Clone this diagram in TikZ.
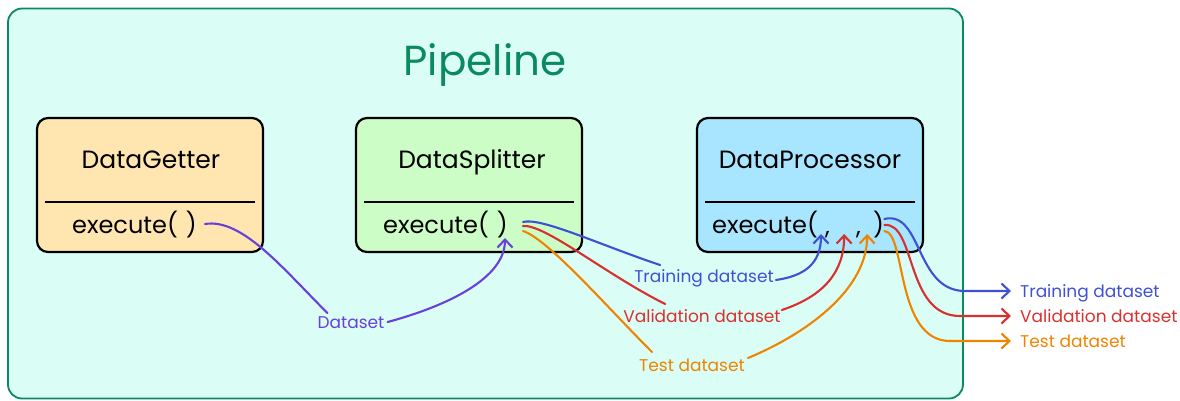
\documentclass[tikz,border=0pt]{standalone}
\usepackage{fontspec}
\setmainfont{Poppins}
\usetikzlibrary{arrows.meta,calc}
\definecolor{pfill}{HTML}{DAFDF5}
\definecolor{pgreen}{HTML}{0C8A5F}
\definecolor{getfill}{HTML}{FFE6B0}
\definecolor{splitfill}{HTML}{CDFDC6}
\definecolor{procfill}{HTML}{A8E6FF}
\definecolor{cvio}{HTML}{6741D9}
\definecolor{cblue}{HTML}{3F51D3}
\definecolor{cred}{HTML}{D8302F}
\definecolor{corange}{HTML}{EE8400}
\begin{document}
\begin{tikzpicture}[x=1pt,y=-1pt,
  frame/.style={draw=pgreen,fill=pfill,line width=1.8pt,rounded corners=14pt,minimum width=955pt,minimum height=390pt,inner sep=0pt},
  umlbox/.style={draw=black,line width=2.2pt,rounded corners=11pt,minimum width=226pt,minimum height=134pt,inner sep=0pt},
  divline/.style={draw=black,line width=2.2pt},
  ttl/.style={text=pgreen,font=\fontsize{42}{48}\selectfont,inner sep=0pt,anchor=base},
  cname/.style={font=\fontsize{25}{30}\selectfont,inner sep=0pt,anchor=base},
  meth/.style={font=\fontsize{24}{28}\selectfont,inner sep=0pt,anchor=base west},
  lbl/.style={font=\fontsize{17}{20}\selectfont,inner sep=0pt},
  conn/.style={line width=2.1pt,line cap=round},
  arr/.style={conn,-{Straight Barb[length=8pt,width=15pt,line width=2.1pt]}}
]
\useasboundingbox (0,0) rectangle (1180,400);
% frame
\node[frame] (pipe) at (485.5,203.5) {};
\node[ttl] (title) at (485,75) {Pipeline};
% boxes
\node[umlbox,fill=getfill] (getter) at (150,185) {};
\node[umlbox,fill=splitfill] (splitter) at (469,185) {};
\node[umlbox,fill=procfill] (proc) at (810,185) {};
\foreach \b in {getter,splitter,proc}
  \draw[divline] ($(\b.west)+(9,17)$) -- ($(\b.east)+(-9,17)$);
% texts
\node[cname] (gt) at (151,168) {DataGetter};
\node[cname] (st) at (472,168) {DataSplitter};
\node[cname] (pt) at (810,168) {DataProcessor};
\node[meth] (ge) at (72,233) {execute(\,\,)};
\node[meth] (se) at (383,233) {execute(\,\,)};
\node[meth] (pe) at (712,233) {execute(};
\node[meth] (c1) at (825,234) {,};
\node[meth] (c2) at (856,234) {,};
\node[meth] (pr) at (873,233) {)};
% labels
\node[lbl,text=cvio,anchor=base] (ds) at (351,328) {Dataset};
\node[lbl,text=cblue,anchor=base] (tr1) at (704,282) {Training dataset};
\node[lbl,text=cred,anchor=base] (va1) at (702,322) {Validation dataset};
\node[lbl,text=corange,anchor=base] (te1) at (692,371) {Test dataset};
\node[lbl,text=cblue,anchor=base west] (tr2) at (1020,297) {Training dataset};
\node[lbl,text=cred,anchor=base west] (va2) at (1020,322) {Validation dataset};
\node[lbl,text=corange,anchor=base west] (te2) at (1020,347) {Test dataset};
% argument slots
\coordinate (inS) at ($(se.base east)+(-3,5)$);
\coordinate (inA) at ($(c1.base west)+(-4,0)$);
\coordinate (inB) at ($(c1.base east)+(14,0)$);
\coordinate (inC) at ($(c2.base east)+(6,0)$);
% Dataset
\draw[conn,cvio] ($(ge.base east)+(8,-9)$) .. controls +(37,-6) and +(-45,-45) .. ($(ds.base west)+(10,-15)$);
\draw[arr,cvio] ($(ds.base east)+(3,-6)$) .. controls +(45,-12) and +(0,45) .. (inS);
% splitter outputs
\draw[conn,cblue] ($(se.base east)+(15,-11)$) .. controls +(18,-5) and +(-60,-20) .. ($(tr1.base west)+(26,-17)$);
\draw[arr,cblue] ($(tr1.base east)+(2,-2)$) .. controls +(28,-4) and +(0,30) .. (inA);
\draw[conn,cred] ($(se.base east)+(15,-7)$) .. controls +(22,-2) and +(-60,-30) .. ($(va1.base west)+(42,-18)$);
\draw[arr,cred] ($(va1.base east)+(1,-12)$) .. controls +(42,-14) and +(0,38) .. (inB);
\draw[conn,corange] ($(se.base east)+(15,-2)$) .. controls +(25,8) and +(-45,-45) .. ($(te1.base west)+(13,-19)$);
\draw[arr,corange] ($(te1.base east)+(3,-13)$) .. controls +(60,-25) and +(0,55) .. (inC);
% processor outputs
\draw[arr,cblue] ($(pr.base east)+(0,-14)$) .. controls +(38,-9) and +(-50,0) .. ($(tr2.base west)+(-55,-6)$) -- ($(tr2.base west)+(-9,-6)$);
\draw[arr,cred] ($(pr.base east)+(0,-8)$) .. controls +(32,-3) and +(-55,0) .. ($(va2.base west)+(-60,-6)$) -- ($(va2.base west)+(-9,-6)$);
\draw[arr,corange] ($(pr.base east)+(0,-2)$) .. controls +(22,1) and +(-55,0) .. ($(te2.base west)+(-70,-6)$) -- ($(te2.base west)+(-9,-6)$);
\end{tikzpicture}
\end{document}
